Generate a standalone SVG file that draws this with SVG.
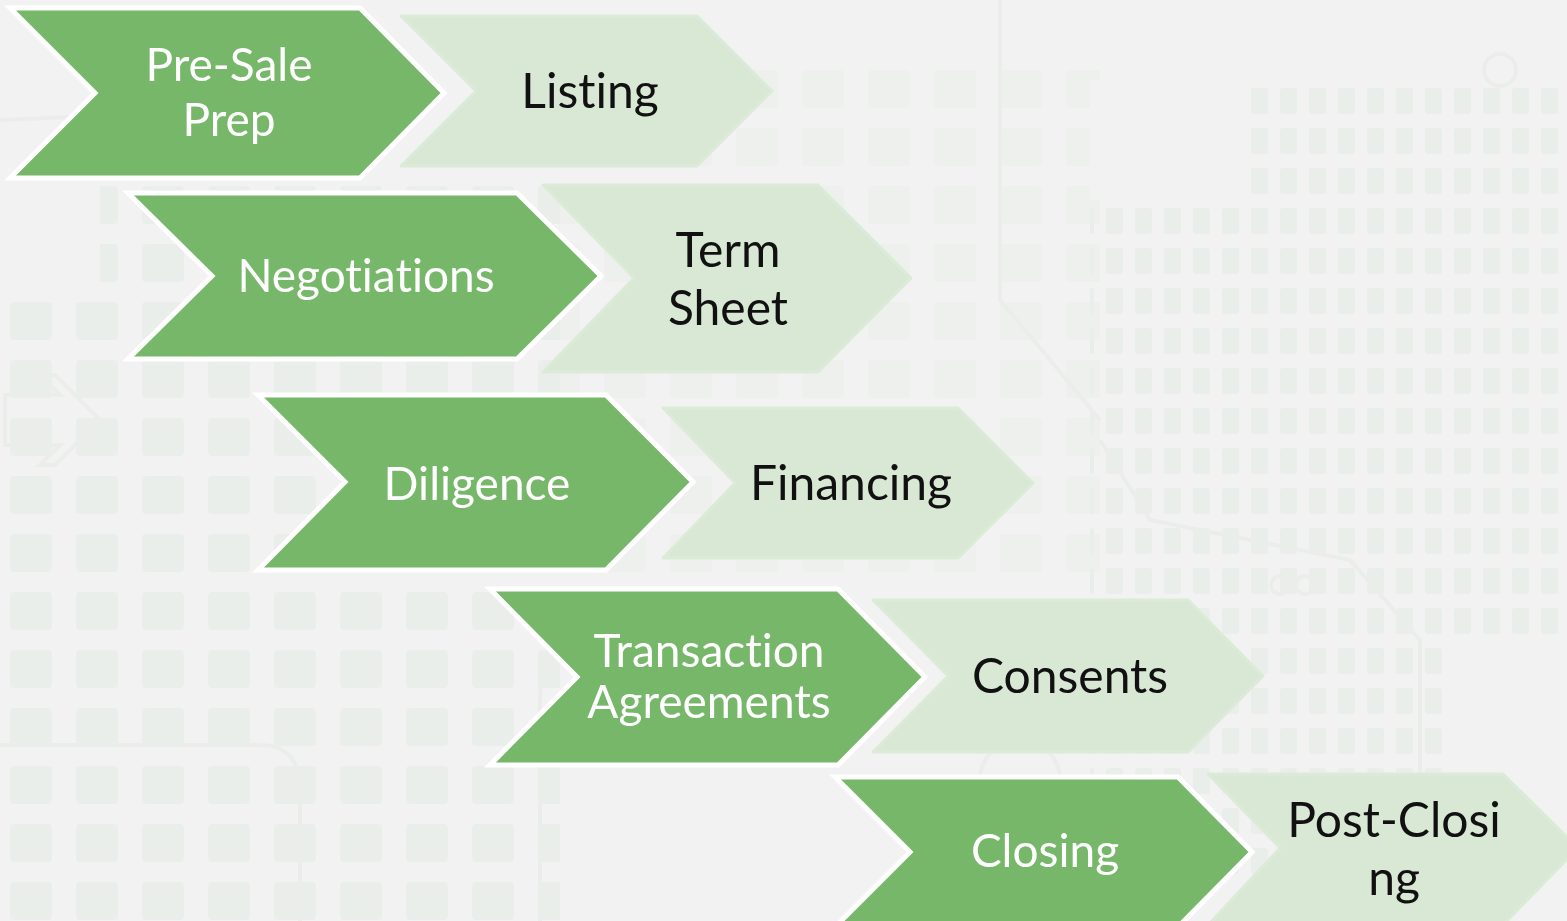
<svg xmlns="http://www.w3.org/2000/svg" width="1567" height="921" viewBox="0 0 1567 921">
  <defs>
    <style>
      .bg { fill: #f2f2f2; }
      .tile { fill: #e4ece3; }
      .trace { fill: none; stroke: #e6e9e6; stroke-width: 4; }
      .step { fill: #77b76a; stroke: #ffffff; stroke-width: 5; stroke-linejoin: miter; }
      .sub { fill: #d9e8d5; stroke: #dcebd8; stroke-width: 3; stroke-linejoin: round; }
      .lbl { font-family: Lato, "Open Sans", "Liberation Sans", sans-serif; font-size: 46px; text-anchor: middle;
             font-variant-ligatures: none; font-feature-settings: "liga" 0, "clig" 0; }
      .lbl-w { fill: #ffffff; }
      .lbl-k { fill: #111111; font-size: 48px; }
    </style>
    <!-- faint board tiles, larger on the left, finer on the right -->
    <pattern id="tilesL" x="10" y="12" width="66" height="58" patternUnits="userSpaceOnUse">
      <rect class="tile" x="0" y="0" width="42" height="38" rx="4"/>
    </pattern>
    <pattern id="tilesR" x="4" y="8" width="29" height="40" patternUnits="userSpaceOnUse">
      <rect class="tile" x="0" y="0" width="17" height="26" rx="3"/>
    </pattern>
  </defs>

  <!-- backdrop -->
  <rect class="bg" x="0" y="0" width="1567" height="921"/>
  <g id="backdrop" opacity="0.55">
    <rect x="0" y="180" width="560" height="741" fill="url(#tilesL)"/>
    <rect x="560" y="60" width="540" height="520" fill="url(#tilesL)" opacity="0.6"/>
    <rect x="1090" y="80" width="477" height="800" fill="url(#tilesR)"/>
    <!-- gaps in the tile field -->
    <rect x="1090" y="80" width="160" height="120" class="bg"/>
    <rect x="1450" y="640" width="117" height="240" class="bg"/>
    <rect x="0" y="180" width="100" height="110" class="bg"/>
    <path class="trace" d="M0,745 H260 Q300,745 300,790 V921"/>
    <path class="trace" d="M540,921 V700 Q540,620 640,600"/>
    <path class="trace" d="M1100,440 L1150,520 L1350,560 L1420,640 V880"/>
    <path class="trace" d="M1000,0 V300 L1100,420"/>
    <path class="trace" d="M0,120 L120,115"/>
    <circle class="trace" cx="1020" cy="780" r="40"/>
    <circle class="trace" cx="1500" cy="70" r="16"/>
    <circle class="trace" cx="1280" cy="585" r="9"/>
    <circle class="trace" cx="1305" cy="585" r="9"/>
    <path class="trace" d="M5,395 H60 L40,375 H55 L100,420 L55,465 H40 L60,445 H5 Z"/>
  </g>

  <!-- row 1 -->
  <g id="listing">
    <polygon class="sub" points="401,16 697,16 772,91 697,166 401,166 476,91"/>
    <text class="lbl lbl-k" x="590" y="108">Listing</text>
  </g>
  <g id="pre-sale-prep">
    <polygon class="step" points="10,8 360,8 444,93 360,178 10,178 95,93"/>
    <text class="lbl lbl-w" x="229" y="81">Pre-Sale</text>
    <text class="lbl lbl-w" x="229" y="136">Prep</text>
  </g>

  <!-- row 2 -->
  <g id="term-sheet">
    <polygon class="sub" points="543,185 818,185 911,278 818,372 543,372 634,278"/>
    <text class="lbl lbl-k" x="728" y="267">Term</text>
    <text class="lbl lbl-k" x="728" y="325">Sheet</text>
  </g>
  <g id="negotiations">
    <polygon class="step" points="128,193 517,193 601,276 517,359 128,359 212,276"/>
    <text class="lbl lbl-w" x="366" y="292">Negotiations</text>
  </g>

  <!-- row 3 -->
  <g id="financing">
    <polygon class="sub" points="663,408 958,408 1033,483 958,558 663,558 735,483"/>
    <text class="lbl lbl-k" x="851" y="500">Financing</text>
  </g>
  <g id="diligence">
    <polygon class="step" points="258,395 606,395 693,482 606,570 258,570 345,482"/>
    <text class="lbl lbl-w" x="477" y="500">Diligence</text>
  </g>

  <!-- row 4 -->
  <g id="consents">
    <polygon class="sub" points="873,600 1188,600 1263,676 1188,752 873,752 948,676"/>
    <text class="lbl lbl-k" x="1070" y="693">Consents</text>
  </g>
  <g id="transaction-agreements">
    <polygon class="step" points="490,589 838,589 925,677 838,765 490,765 577,677"/>
    <text class="lbl lbl-w" x="709" y="667">Transaction</text>
    <text class="lbl lbl-w" x="709" y="718">Agreements</text>
  </g>

  <!-- row 5 -->
  <g id="post-closing">
    <polygon class="sub" points="1208,774 1503,774 1578,848 1503,925 1208,925 1280,848"/>
    <text class="lbl lbl-k" x="1394" y="837">Post-Closi</text>
    <text class="lbl lbl-k" x="1394" y="895">ng</text>
  </g>
  <g id="closing">
    <polygon class="step" points="835,777 1178,777 1252,852 1178,927 835,927 910,852"/>
    <text class="lbl lbl-w" x="1045" y="867">Closing</text>
  </g>
</svg>
